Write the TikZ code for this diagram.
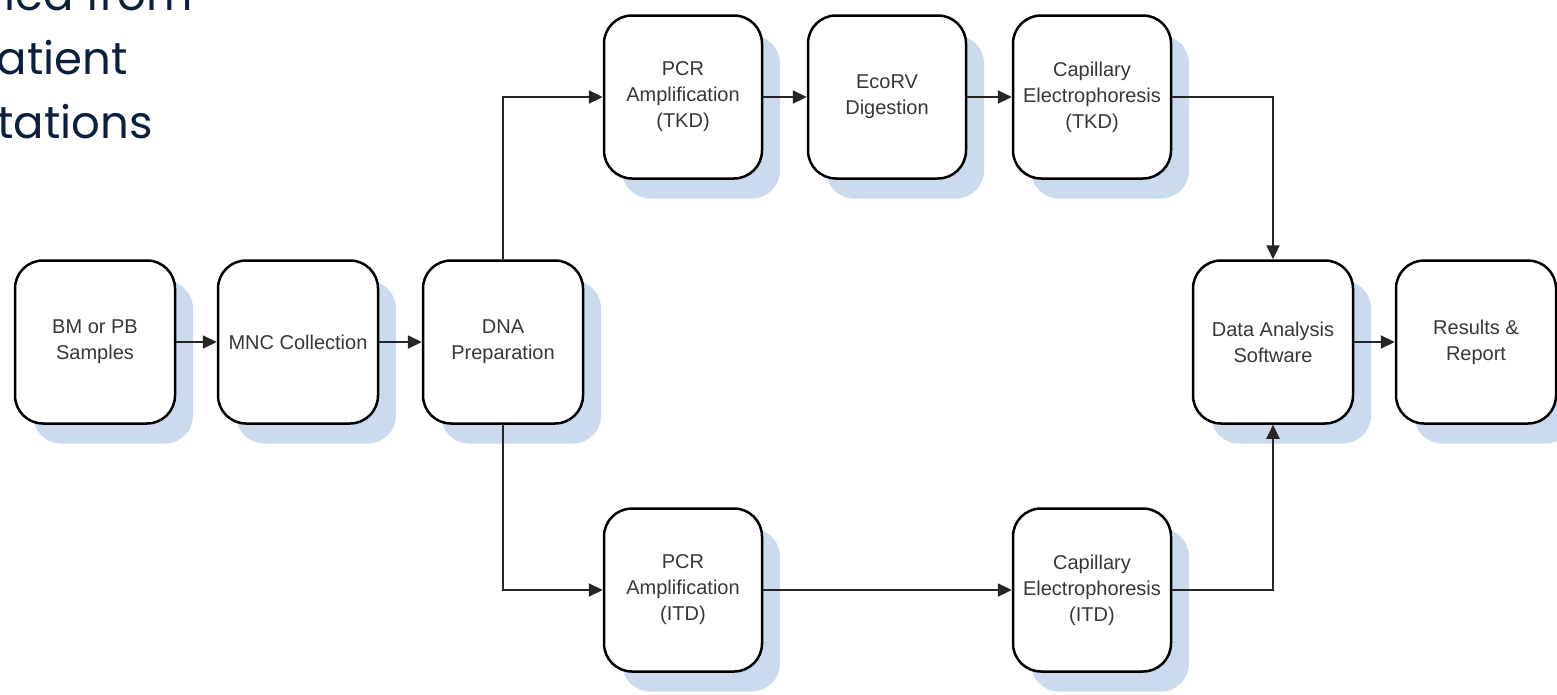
\documentclass[tikz,border=0pt]{standalone}
\usepackage{fontspec}
\setmainfont{Liberation Sans}
\newfontfamily\titlefont{Poppins}
\usetikzlibrary{arrows.meta,shadows}
\definecolor{shadowblue}{RGB}{204,218,237}
\definecolor{labelgray}{RGB}{55,55,55}
\definecolor{navy}{RGB}{12,32,62}
\begin{document}
\begin{tikzpicture}[x=1pt,y=-1pt,
  stepbox/.style={draw=black, line width=2.5pt, rounded corners=28pt, fill=white,
    minimum width=160pt, minimum height=163pt, align=center, text=labelgray,
    font=\fontsize{20}{26}\selectfont, inner sep=0pt,
    drop shadow={shadow xshift=18pt, shadow yshift=-20pt, fill=shadowblue, opacity=1}},
  narrowbox/.style={stepbox, minimum width=158pt},
  flow/.style={line width=2.2pt, draw=black!85, -{Triangle[length=14pt,width=13pt]}},
  titletext/.style={font=\titlefont\fontsize{45}{64}\selectfont, text=navy, anchor=base east, inner sep=0pt}
]
\useasboundingbox (0,0) rectangle (1557,694);
\fill[white] (0,0) rectangle (1557,694);

% top-left text, cut by the picture's edges as in the reference
\node[titletext] (t1) at (193,10) {ied from};
\node[titletext] (t2) at (128,74) {atient};
\node[titletext] (t3) at (153,138) {tations};

% main row
\node[stepbox] (bm)  at (95,342)  {BM or PB\\Samples};
\node[stepbox] (mnc) at (298,342) {MNC Collection};
\node[stepbox] (dna) at (503,342) {DNA\\Preparation};
\node[stepbox] (data) at (1273,342) {Data Analysis\\Software};
\node[stepbox] (res) at (1476,342) {Results \&\\Report};

% top row
\node[narrowbox] (pcrt) at (683,97)  {PCR\\Amplification\\(TKD)};
\node[narrowbox] (eco)  at (887,97)  {EcoRV\\Digestion};
\node[narrowbox] (capt) at (1092,97) {Capillary\\Electrophoresis\\(TKD)};

% bottom row
\node[narrowbox] (pcri) at (683,590)  {PCR\\Amplification\\(ITD)};
\node[narrowbox] (capi) at (1092,590) {Capillary\\Electrophoresis\\(ITD)};

% connectors
\draw[flow] (bm) -- (mnc);
\draw[flow] (mnc) -- (dna);
\draw[flow] (dna.north) |- (pcrt.west);
\draw[flow] (dna.south) |- (pcri.west);
\draw[flow] (pcrt) -- (eco);
\draw[flow] (eco) -- (capt);
\draw[flow] (capt.east) -| (data.north);
\draw[flow] (pcri) -- (capi);
\draw[flow] (capi.east) -| (data.south);
\draw[flow] (data) -- (res);
\end{tikzpicture}
\end{document}
